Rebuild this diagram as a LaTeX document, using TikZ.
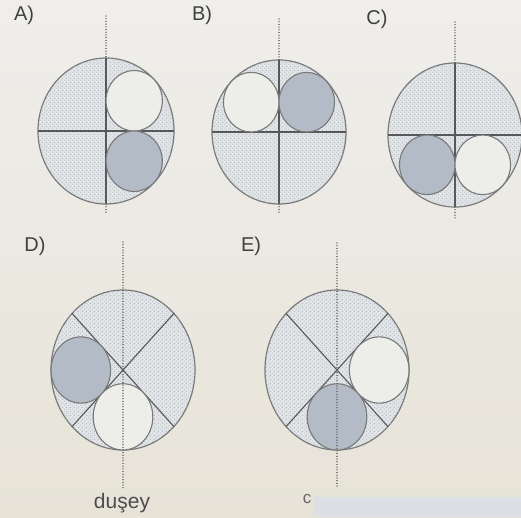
\documentclass[tikz,border=0pt]{standalone}
\usepackage{fontspec}
\setmainfont{Liberation Sans}
\usetikzlibrary{patterns.meta}
\definecolor{bgtop}{HTML}{EFEEEB}
\definecolor{bgbot}{HTML}{E7E3D7}
\definecolor{regionfill}{HTML}{E1E4E7}
\definecolor{dotcol}{HTML}{A3A9B0}
\definecolor{graydisc}{HTML}{B3BBC6}
\definecolor{whitedisc}{HTML}{EDEDE9}
\definecolor{linecol}{HTML}{585858}
\definecolor{toolcol}{HTML}{DCDFE3}
\tikzdeclarepattern{
  name=hexdots,
  type=uncolored,
  bounding box={(0pt,0pt) and (4pt,4pt)},
  tile size={(4pt,4pt)},
  code={
    \fill (1pt,1pt) circle (0.6pt);
    \fill (3pt,3pt) circle (0.6pt);
  }
}
\begin{document}
\begin{tikzpicture}[x=1pt,y=-1pt,
  region/.style={draw=linecol!80, line width=1.2pt, fill=regionfill, postaction={pattern=hexdots, pattern color=dotcol}},
  wdisc/.style={draw=linecol!80, line width=1.1pt, fill=whitedisc},
  gdisc/.style={draw=linecol!80, line width=1.1pt, fill=graydisc},
  axisline/.style={draw=linecol, line width=1.1pt},
  dotline/.style={draw=linecol!90, line width=1.1pt, line cap=round, dash pattern=on 0.1pt off 2.6pt},
  lbl/.style={font=\fontsize{20}{22}\selectfont, text=black!75, inner sep=0pt},
  cdot/.style={fill=linecol}
]
\useasboundingbox (0,0) rectangle (521,517);
\shade[top color=bgtop, bottom color=bgbot] (0,0) rectangle (521,517);

% ---------- A ----------
\node[lbl] (labA) at (24,15) {A)};
\begin{scope}[shift={(106,131)}, xscale=68, yscale=73]
  \draw[region] (0,0) circle (1);
  \draw[axisline] (-1,0) -- (1,0);
  \draw[axisline] (0,-1) -- (0,1);
  \draw[wdisc] (0.4142,-0.4142) circle (0.4142);
  \draw[gdisc] (0.4142,0.4142) circle (0.4142);
  \coordinate (Atop) at (0,-1);
  \coordinate (Abot) at (0,1);
\end{scope}
\fill[cdot] (106,131) circle (1.5pt);
\coordinate (Aup) at (106,16);
\coordinate (Adn) at (106,214);
\draw[dotline] (Aup) -- (Atop);
\draw[dotline] (Abot) -- (Adn);

% ---------- B ----------
\node[lbl] (labB) at (202,15) {B)};
\begin{scope}[shift={(279,132)}, xscale=67, yscale=72]
  \draw[region] (0,0) circle (1);
  \draw[axisline] (-1,0) -- (1,0);
  \draw[axisline] (0,-1) -- (0,1);
  \draw[wdisc] (-0.4142,-0.4142) circle (0.4142);
  \draw[gdisc] (0.4142,-0.4142) circle (0.4142);
  \coordinate (Btop) at (0,-1);
  \coordinate (Bbot) at (0,1);
\end{scope}
\fill[cdot] (279,132) circle (1.5pt);
\coordinate (Bup) at (279,19);
\coordinate (Bdn) at (279,214);
\draw[dotline] (Bup) -- (Btop);
\draw[dotline] (Bbot) -- (Bdn);

% ---------- C ----------
\node[lbl] (labC) at (377,19) {C)};
\begin{scope}[shift={(455,135)}, xscale=67, yscale=72]
  \draw[region] (0,0) circle (1);
  \draw[axisline] (-1,0) -- (1,0);
  \draw[axisline] (0,-1) -- (0,1);
  \draw[gdisc] (-0.4142,0.4142) circle (0.4142);
  \draw[wdisc] (0.4142,0.4142) circle (0.4142);
  \coordinate (Ctop) at (0,-1);
  \coordinate (Cbot) at (0,1);
\end{scope}
\fill[cdot] (455,135) circle (1.5pt);
\coordinate (Cup) at (455,22);
\coordinate (Cdn) at (455,218);
\draw[dotline] (Cup) -- (Ctop);
\draw[dotline] (Cbot) -- (Cdn);

% ---------- D ----------
\node[lbl] (labD) at (35,246) {D)};
\begin{scope}[shift={(123,370)}, xscale=72, yscale=80]
  \draw[region] (0,0) circle (1);
  \draw[axisline] (135:1) -- (-45:1);
  \draw[axisline] (45:1) -- (-135:1);
  \draw[gdisc] (-0.5858,0) circle (0.4142);
  \draw[wdisc] (0,0.5858) circle (0.4142);
\end{scope}
\fill[cdot] (123,370) circle (1.5pt);
\coordinate (Dup) at (123,242);
\coordinate (Ddn) at (123,488);
\draw[dotline] (Dup) -- (Ddn);
\node[font=\fontsize{21}{23}\selectfont, text=black!70, inner sep=0pt] (dusey) at (122,503) {duşey};

% ---------- E ----------
\node[lbl] (labE) at (251,246) {E)};
\begin{scope}[shift={(337,370)}, xscale=72, yscale=80]
  \draw[region] (0,0) circle (1);
  \draw[axisline] (135:1) -- (-45:1);
  \draw[axisline] (45:1) -- (-135:1);
  \draw[wdisc] (0.5858,0) circle (0.4142);
  \draw[gdisc] (0,0.5858) circle (0.4142);
\end{scope}
\fill[cdot] (337,370) circle (1.5pt);
\coordinate (Eup) at (337,243);
\coordinate (Edn) at (337,488);
\draw[dotline] (Eup) -- (Edn);

% ---------- toolbar artifact ----------
\fill[toolcol] (313,497) rectangle (521,517);
\node[font=\fontsize{17}{19}\selectfont, text=black!60, inner sep=0pt] (cchar) at (307,499) {c};
\end{tikzpicture}
\end{document}
